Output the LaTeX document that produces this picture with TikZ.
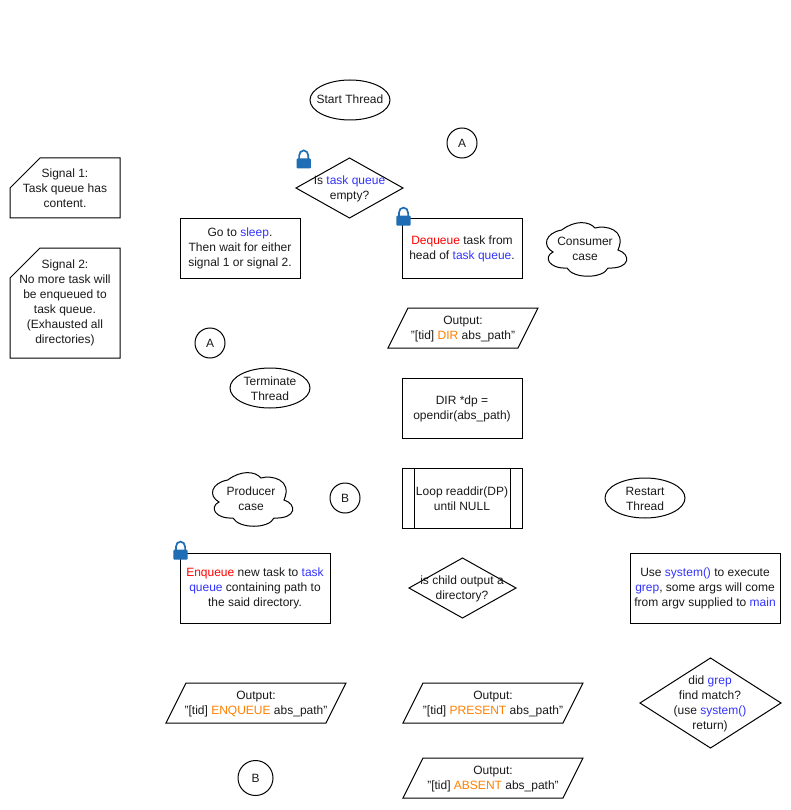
\documentclass[tikz,border=0pt]{standalone}
\usepackage{fontspec}
\setmainfont{Liberation Sans}
\usetikzlibrary{shapes.geometric}
\definecolor{kwred}{HTML}{FF0000}
\definecolor{kwblue}{HTML}{3333FF}
\definecolor{kworange}{HTML}{FF8000}
\definecolor{lockblue}{HTML}{1F6DB5}
\definecolor{ink}{HTML}{1A1A1A}
\newcommand{\kr}[1]{\textcolor{kwred}{#1}}
\newcommand{\kb}[1]{\textcolor{kwblue}{#1}}
\newcommand{\ko}[1]{\textcolor{kworange}{#1}}
% cloud outline: left, top of its box
\newcommand{\cloudshape}[2]{%
  \draw[line width=1pt,fill=white,shift={(#1,#2)}]
    (16.7,7) .. controls (30,-3) and (44,-2) .. (50,5)
    .. controls (60,2) and (82,6) .. (73,27)
    .. controls (86,31) and (86,46) .. (63,45)
    .. controls (58,56) and (28,56) .. (22,45)
    .. controls (4,46) and (-2,34) .. (8,29)
    .. controls (-3,23) and (0,10) .. (16.7,7) -- cycle;}
% lock icon: left, top
\newcommand{\lockicon}[2]{%
  \begin{scope}[shift={(#1,#2)}]
    \draw[lockblue,line width=1.7pt] (2.6,10) -- (2.6,6.2) arc[start angle=180,end angle=360,x radius=4.6,y radius=5.3] -- (11.8,10);
    \fill[lockblue,rounded corners=1pt] (0,9) rectangle (14.4,19);
  \end{scope}}
\newcommand{\para}[5]{% name, x-left, top, width, skew
  \draw[line width=1pt,fill=white] (#2+#5,#3) -- (#2+#4,#3) -- (#2+#4-#5,#3+40) -- (#2,#3+40) -- cycle;
  \coordinate (#1) at (#2+#4/2,#3+21);}
\tikzset{
  every node/.style={font=\fontsize{12}{15}\selectfont,text=ink,align=center,inner sep=0pt,outer sep=0pt},
  boxn/.style={draw=black,line width=1pt,rectangle,fill=white},
  ell/.style={draw=black,line width=1pt,ellipse,fill=white,minimum width=80pt,minimum height=40pt},
  circ/.style={draw=black,line width=1pt,circle,fill=white,minimum size=30pt},
  dia/.style={draw=black,line width=1pt,diamond,fill=white}
}
\begin{document}
\begin{tikzpicture}[x=1pt,y=-1pt]
\useasboundingbox (0,0) rectangle (791,810);
\fill[white] (0,0) rectangle (791,810);

\node[ell] (start) at (350,100) {};
\node (startt) at (350,99.5) {Start Thread};
\node[circ] (a1) at (462,143) {A};

% Signals
\draw[line width=1pt] (40,158) -- (120,158) -- (120,218) -- (10,218) -- (10,188) -- cycle;
\node (sig1) at (65,188) {Signal 1:\\Task queue has\\content.};
\draw[line width=1pt] (40,248) -- (120,248) -- (120,358) -- (10,358) -- (10,278) -- cycle;
\node (sig2) at (65,303) {Signal 2:\\No more task will\\be enqueued to\\task queue.\\(Exhausted all\\directories)};

% Consumer side
\node[dia,minimum width=107pt,minimum height=60pt] (d1) at (349.5,188) {};
\node (d1t) at (349.5,188.5) {Is \kb{task queue}\\empty?};
\node[boxn,minimum width=120pt,minimum height=60pt] (sleep) at (240,248.5) {Go to \kb{sleep}.\\Then wait for either\\signal 1 or signal 2.};
\node[boxn,minimum width=120pt,minimum height=60pt] (deq) at (462,248.5) {\kr{Dequeue} task from\\head of \kb{task queue}.};
\cloudshape{545}{223}
\node (cons) at (585,248.5) {Consumer\\case};
\para{o1}{388}{308}{150}{20}
\node (o1t) at (o1) {Output:\\"[tid] \ko{DIR} abs\_path"};
\node[boxn,minimum width=120pt,minimum height=60pt] (dir) at (462,408.5) {DIR *dp =\\opendir(abs\_path)};
\node[boxn,minimum width=120pt,minimum height=60pt] (loop) at (462,498.5) {Loop readdir(DP)\\until NULL};
\draw[line width=1pt] (414,468) -- (414,528) (510,468) -- (510,528);

\node[circ] (a2) at (210,343) {A};
\node[ell] (term) at (270,388) {};
\node (termt) at (270,388.5) {Terminate\\Thread};
\cloudshape{211}{473}
\node (prod) at (251,498.5) {Producer\\case};
\node[circ] (b1) at (345,498) {B};
\node[ell] (restart) at (645,498) {};
\node (restartt) at (645,498.5) {Restart\\Thread};

\node[boxn,minimum width=150pt,minimum height=70pt] (enq) at (255,588.5) {\kr{Enqueue} new task to \kb{task}\\\kb{queue} containing path to\\the said directory.};
\node[dia,minimum width=107pt,minimum height=60pt] (d2) at (462.5,588) {};
\node (d2t) at (462,588.5) {is child output a\\directory?};
\node[boxn,minimum width=150pt,minimum height=70pt] (sys) at (705,588.5) {Use \kb{system()} to execute\\\kb{grep}, some args will come\\from argv supplied to \kb{main}};

\para{o2}{166}{683}{180}{20}
\node (o2t) at (o2) {Output:\\"[tid] \ko{ENQUEUE} abs\_path"};
\para{o3}{403}{683}{180}{20}
\node (o3t) at (o3) {Output:\\"[tid] \ko{PRESENT} abs\_path"};
\para{o4}{403}{758}{180}{20}
\node (o4t) at (o4) {Output:\\"[tid] \ko{ABSENT} abs\_path"};
\node[dia,minimum width=141pt,minimum height=90pt] (d3) at (710.5,703) {};
\node (d3t) at (710,703.5) {did \kb{grep}\\find match?\\(use \kb{system()}\\return)};
\node[circ,minimum size=35pt] (b2) at (255.5,778) {B};

\lockicon{296.5}{149.5}
\lockicon{396.3}{206.7}
\lockicon{173.3}{540.7}
\end{tikzpicture}
\end{document}
